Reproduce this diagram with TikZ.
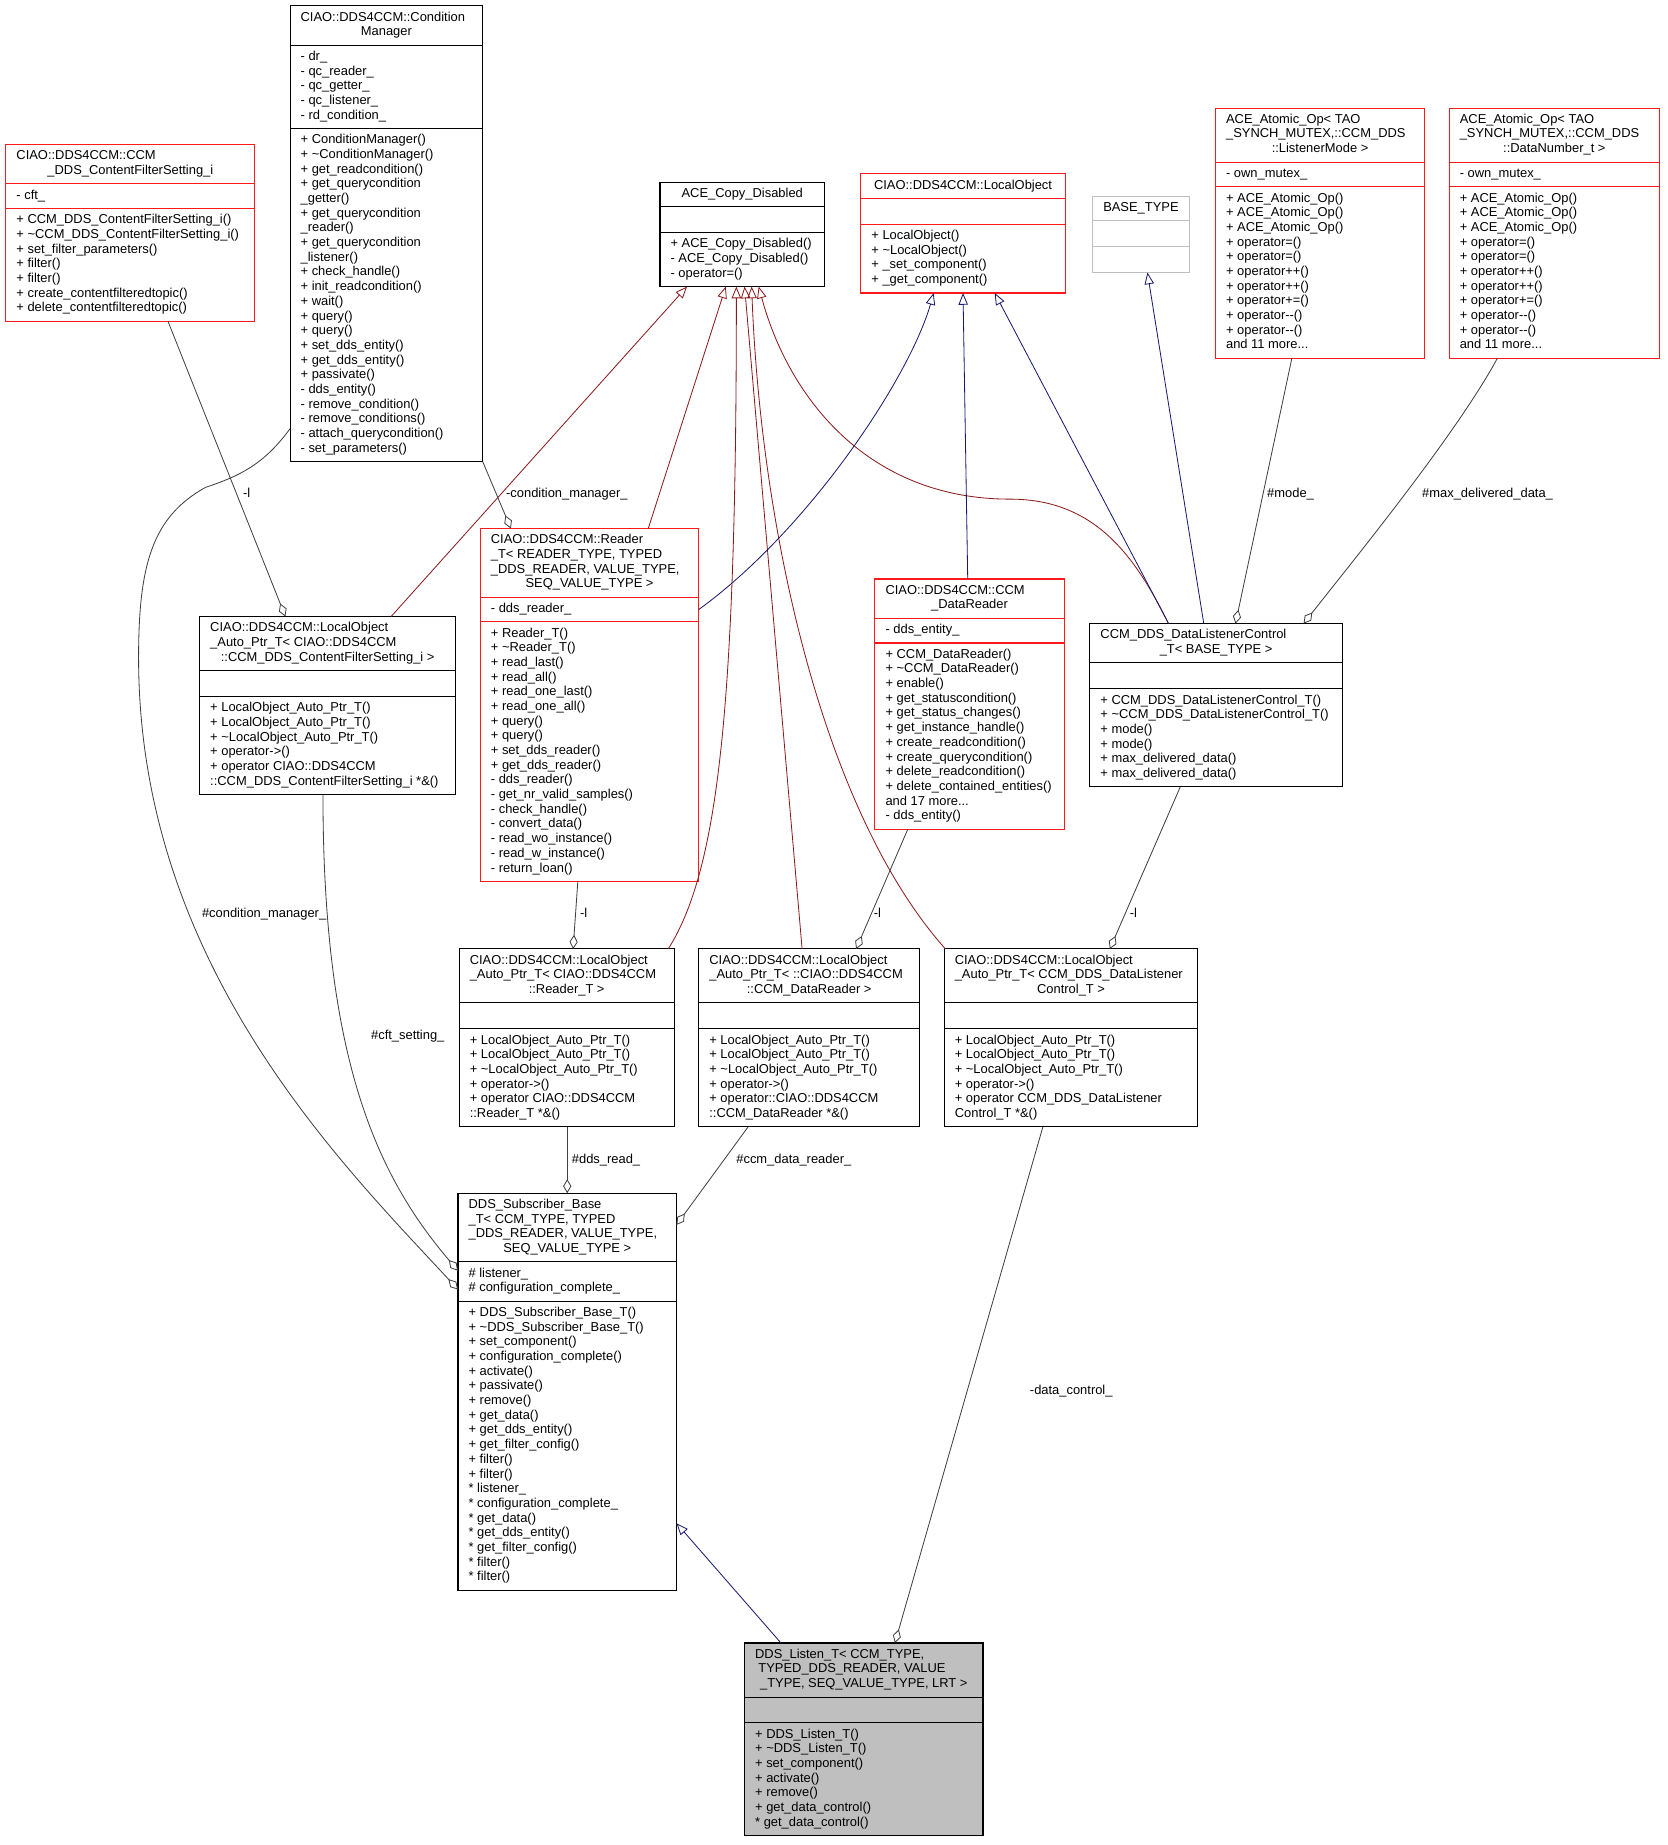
\documentclass[tikz,border=0pt]{standalone}
\usepackage{fontspec}
\setmainfont{Liberation Sans}
\usetikzlibrary{arrows.meta,calc}
\pgfdeclarelayer{background}
\pgfsetlayers{background,main}
\definecolor{inhblue}{HTML}{191970}
\definecolor{inhred}{HTML}{8B1A1A}
\definecolor{usegray}{HTML}{404040}
\definecolor{boxgray}{HTML}{BFBFBF}
\definecolor{boxred}{HTML}{FF1A1A}

\tikzset{
  txt/.style={inner sep=0pt, outer sep=0pt, font=\fontsize{11}{12.5}\selectfont},
  boxsep/.style={line width=0.9pt},
  inh/.style={line width=0.7pt, -{Triangle[open,length=10pt,width=8pt]}},
  agg/.style={line width=0.7pt, draw=usegray, {Diamond[open,length=12pt,width=7pt]}-},
  elabel/.style={txt, anchor=base west},
}

\newcommand\UStart[5]{\gdef\Uname{#1}\gdef\Ubx{#2}\gdef\Uby{#3}\gdef\Ubw{#4}\gdef\Ucol{#5}\gdef\Ucy{#3}}
\newcommand\UTitle[3]{%
  \pgfmathsetmacro\Utb{\Ucy+13}%
  \ifnum#2>0 \node[txt,anchor=base west] (\Uname-tl) at (\Ubx+9,\Utb) {\begin{tabular}[t]{@{}l@{}}#1\end{tabular}};\fi
  \pgfmathsetmacro\Utc{\Ucy+13+#2*12.5}%
  \pgfmathsetmacro\Uxc{\Ubx+\Ubw/2}%
  \node[txt,anchor=base] (\Uname-tc) at (\Uxc,\Utc) {#3};%
  \pgfmathsetmacro\Uny{\Ucy+8.5+(#2+1)*12.5}\global\let\Ucy\Uny}
\newcommand\UComp[3]{%
  \draw[boxsep,draw=\Ucol] (\Ubx,\Ucy) -- (\Ubx+\Ubw,\Ucy);
  \ifnum#3>0 \node[txt,anchor=base west] (\Uname-#1) at (\Ubx+9,\Ucy+13) {\begin{tabular}[t]{@{}l@{}}#2\end{tabular}};%
    \pgfmathsetmacro\Uny{\Ucy+8.5+#3*12.5}%
  \else \pgfmathsetmacro\Uny{\Ucy+22}\fi
  \global\let\Ucy\Uny}
\newcommand\UEnd[1]{%
  \pgfmathsetmacro\Ubh{\Ucy-\Uby}%
  \begin{pgfonlayer}{background}
  \node[draw=\Ucol, fill=#1, line width=0.9pt, inner sep=0pt, outer sep=0pt,
        minimum width=\Ubw pt, minimum height=\Ubh pt, anchor=north west] (\Uname) at (\Ubx,\Uby) {};
  \end{pgfonlayer}}

\begin{document}
\begin{tikzpicture}[x=1pt,y=-1pt]
\begin{pgfonlayer}{background}
\fill[white] (0,0) rectangle (1420,1571);
\end{pgfonlayer}
\useasboundingbox (0,0) rectangle (1420,1571);

% ---------- boxes ----------
\UStart{cfs}{5}{123}{212}{boxred}
\UTitle{CIAO::DDS4CCM::CCM}{1}{\_DDS\_ContentFilterSetting\_i}
\UComp{a}{- cft\_}{1}
\UComp{m}{+ CCM\_DDS\_ContentFilterSetting\_i()\\+ \textasciitilde CCM\_DDS\_ContentFilterSetting\_i()\\+ set\_filter\_parameters()\\+ filter()\\+ filter()\\+ create\_contentfilteredtopic()\\+ delete\_contentfilteredtopic()}{7}
\UEnd{white}

\UStart{cm}{247}{5}{164}{black}
\UTitle{CIAO::DDS4CCM::Condition}{1}{Manager}
\UComp{a}{- dr\_\\- qc\_reader\_\\- qc\_getter\_\\- qc\_listener\_\\- rd\_condition\_}{5}
\UComp{m}{+ ConditionManager()\\+ \textasciitilde ConditionManager()\\+ get\_readcondition()\\+ get\_querycondition\\\_getter()\\+ get\_querycondition\\\_reader()\\+ get\_querycondition\\\_listener()\\+ check\_handle()\\+ init\_readcondition()\\+ wait()\\+ query()\\+ query()\\+ set\_dds\_entity()\\+ get\_dds\_entity()\\+ passivate()\\- dds\_entity()\\- remove\_condition()\\- remove\_conditions()\\- attach\_querycondition()\\- set\_parameters()}{22}
\UEnd{white}

\UStart{ace}{562}{155}{140}{black}
\UTitle{}{0}{ACE\_Copy\_Disabled}
\UComp{a}{}{0}
\UComp{m}{+ ACE\_Copy\_Disabled()\\- ACE\_Copy\_Disabled()\\- operator=()}{3}
\UEnd{white}

\UStart{lo}{733}{148}{174}{boxred}
\UTitle{}{0}{CIAO::DDS4CCM::LocalObject}
\UComp{a}{}{0}
\UComp{m}{+ LocalObject()\\+ \textasciitilde LocalObject()\\+ \_set\_component()\\+ \_get\_component()}{4}
\UEnd{white}

\UStart{bt}{930}{167}{83}{boxgray}
\UTitle{}{0}{BASE\_TYPE}
\UComp{a}{}{0}
\UComp{m}{}{0}
\UEnd{white}

\UStart{aoa}{1035}{92}{178}{boxred}
\UTitle{ACE\_Atomic\_Op< TAO\\\_SYNCH\_MUTEX,::CCM\_DDS}{2}{::ListenerMode >}
\UComp{a}{- own\_mutex\_}{1}
\UComp{m}{+ ACE\_Atomic\_Op()\\+ ACE\_Atomic\_Op()\\+ ACE\_Atomic\_Op()\\+ operator=()\\+ operator=()\\+ operator++()\\+ operator++()\\+ operator+=()\\+ operator-\kern0pt-()\\+ operator-\kern0pt-()\\and 11 more...}{11}
\UEnd{white}

\UStart{aob}{1234}{92}{179}{boxred}
\UTitle{ACE\_Atomic\_Op< TAO\\\_SYNCH\_MUTEX,::CCM\_DDS}{2}{::DataNumber\_t >}
\UComp{a}{- own\_mutex\_}{1}
\UComp{m}{+ ACE\_Atomic\_Op()\\+ ACE\_Atomic\_Op()\\+ ACE\_Atomic\_Op()\\+ operator=()\\+ operator=()\\+ operator++()\\+ operator++()\\+ operator+=()\\+ operator-\kern0pt-()\\+ operator-\kern0pt-()\\and 11 more...}{11}
\UEnd{white}

\UStart{rd}{409}{450}{186}{boxred}
\UTitle{CIAO::DDS4CCM::Reader\\\_T< READER\_TYPE, TYPED\\\_DDS\_READER, VALUE\_TYPE,}{3}{SEQ\_VALUE\_TYPE >}
\UComp{a}{- dds\_reader\_}{1}
\UComp{m}{+ Reader\_T()\\+ \textasciitilde Reader\_T()\\+ read\_last()\\+ read\_all()\\+ read\_one\_last()\\+ read\_one\_all()\\+ query()\\+ query()\\+ set\_dds\_reader()\\+ get\_dds\_reader()\\- dds\_reader()\\- get\_nr\_valid\_samples()\\- check\_handle()\\- convert\_data()\\- read\_wo\_instance()\\- read\_w\_instance()\\- return\_loan()}{17}
\UEnd{white}

\UStart{lcfs}{170}{525}{218}{black}
\UTitle{CIAO::DDS4CCM::LocalObject\\\_Auto\_Ptr\_T< CIAO::DDS4CCM}{2}{::CCM\_DDS\_ContentFilterSetting\_i >}
\UComp{a}{}{0}
\UComp{m}{+ LocalObject\_Auto\_Ptr\_T()\\+ LocalObject\_Auto\_Ptr\_T()\\+ \textasciitilde LocalObject\_Auto\_Ptr\_T()\\+ operator->()\\+ operator CIAO::DDS4CCM\\::CCM\_DDS\_ContentFilterSetting\_i *\&()}{6}
\UEnd{white}

\UStart{cdr}{745}{493}{161}{boxred}
\UTitle{CIAO::DDS4CCM::CCM}{1}{\_DataReader}
\UComp{a}{- dds\_entity\_}{1}
\UComp{m}{+ CCM\_DataReader()\\+ \textasciitilde CCM\_DataReader()\\+ enable()\\+ get\_statuscondition()\\+ get\_status\_changes()\\+ get\_instance\_handle()\\+ create\_readcondition()\\+ create\_querycondition()\\+ delete\_readcondition()\\+ delete\_contained\_entities()\\and 17 more...\\- dds\_entity()}{12}
\UEnd{white}

\UStart{dlc}{928}{531}{215}{black}
\UTitle{CCM\_DDS\_DataListenerControl}{1}{\_T< BASE\_TYPE >}
\UComp{a}{}{0}
\UComp{m}{+ CCM\_DDS\_DataListenerControl\_T()\\+ \textasciitilde CCM\_DDS\_DataListenerControl\_T()\\+ mode()\\+ mode()\\+ max\_delivered\_data()\\+ max\_delivered\_data()}{6}
\UEnd{white}

\UStart{lrd}{391}{808}{183}{black}
\UTitle{CIAO::DDS4CCM::LocalObject\\\_Auto\_Ptr\_T< CIAO::DDS4CCM}{2}{::Reader\_T >}
\UComp{a}{}{0}
\UComp{m}{+ LocalObject\_Auto\_Ptr\_T()\\+ LocalObject\_Auto\_Ptr\_T()\\+ \textasciitilde LocalObject\_Auto\_Ptr\_T()\\+ operator->()\\+ operator CIAO::DDS4CCM\\::Reader\_T *\&()}{6}
\UEnd{white}

\UStart{ldr}{595}{808}{188}{black}
\UTitle{CIAO::DDS4CCM::LocalObject\\\_Auto\_Ptr\_T< ::CIAO::DDS4CCM}{2}{::CCM\_DataReader >}
\UComp{a}{}{0}
\UComp{m}{+ LocalObject\_Auto\_Ptr\_T()\\+ LocalObject\_Auto\_Ptr\_T()\\+ \textasciitilde LocalObject\_Auto\_Ptr\_T()\\+ operator->()\\+ operator::CIAO::DDS4CCM\\::CCM\_DataReader *\&()}{6}
\UEnd{white}

\UStart{ldlc}{804}{808}{216}{black}
\UTitle{CIAO::DDS4CCM::LocalObject\\\_Auto\_Ptr\_T< CCM\_DDS\_DataListener}{2}{Control\_T >}
\UComp{a}{}{0}
\UComp{m}{+ LocalObject\_Auto\_Ptr\_T()\\+ LocalObject\_Auto\_Ptr\_T()\\+ \textasciitilde LocalObject\_Auto\_Ptr\_T()\\+ operator->()\\+ operator CCM\_DDS\_DataListener\\Control\_T *\&()}{6}
\UEnd{white}

\UStart{sb}{390}{1016}{186}{black}
\UTitle{DDS\_Subscriber\_Base\\\_T< CCM\_TYPE, TYPED\\\_DDS\_READER, VALUE\_TYPE,}{3}{SEQ\_VALUE\_TYPE >}
\UComp{a}{\# listener\_\\\# configuration\_complete\_}{2}
\UComp{m}{+ DDS\_Subscriber\_Base\_T()\\+ \textasciitilde DDS\_Subscriber\_Base\_T()\\+ set\_component()\\+ configuration\_complete()\\+ activate()\\+ passivate()\\+ remove()\\+ get\_data()\\+ get\_dds\_entity()\\+ get\_filter\_config()\\+ filter()\\+ filter()\\{*} listener\_\\{*} configuration\_complete\_\\{*} get\_data()\\{*} get\_dds\_entity()\\{*} get\_filter\_config()\\{*} filter()\\{*} filter()}{19}
\UEnd{white}

\UStart{ls}{634}{1399}{203}{black}
\UTitle{DDS\_Listen\_T< CCM\_TYPE,\\\hspace*{2.8pt}TYPED\_DDS\_READER, VALUE}{2}{\_TYPE, SEQ\_VALUE\_TYPE, LRT >}
\UComp{a}{}{0}
\UComp{m}{+ DDS\_Listen\_T()\\+ \textasciitilde DDS\_Listen\_T()\\+ set\_component()\\+ activate()\\+ remove()\\+ get\_data\_control()\\{*} get\_data\_control()}{7}
\UEnd{boxgray}

% ---------- inheritance (private, firebrick) ----------
\draw[inh,draw=inhred] ([xshift=163pt]lcfs.north west) -- ([xshift=23pt]ace.south west);
\draw[inh,draw=inhred] ([xshift=143pt]rd.north west) -- ([xshift=56pt]ace.south west);
\draw[inh,draw=inhred] ([xshift=178pt]lrd.north west) .. controls (612,740) and (627,600) .. ([xshift=65pt]ace.south west);
\draw[inh,draw=inhred] ([xshift=88pt]ldr.north west) -- ([xshift=72pt]ace.south west);
\draw[inh,draw=inhred] ([xshift=1pt]ldlc.north west) .. controls (700,690) and (648,450) .. ([xshift=78pt]ace.south west);
\draw[inh,draw=inhred] ([xshift=67pt]dlc.north west) .. controls (965,470) and (930,425) .. (860,425) .. controls (740,425) and (672,340) .. ([xshift=84pt]ace.south west);

% ---------- inheritance (public, blue) ----------
\draw[inh,draw=inhblue] ([yshift=-69pt]rd.north east) .. controls (690,450) and (775,320) .. ([xshift=62pt]lo.south west);
\draw[inh,draw=inhblue] ([xshift=79pt]cdr.north west) -- ([xshift=87pt]lo.south west);
\draw[inh,draw=inhblue] ([xshift=67pt]dlc.north west) -- ([xshift=114pt]lo.south west);
\draw[inh,draw=inhblue] ([xshift=97pt]dlc.north west) -- ([xshift=47pt]bt.south west);
\draw[inh,draw=inhblue] ([xshift=31pt]ls.north west) -- ([yshift=-281pt]sb.north east);

% ---------- usage (aggregation) ----------
\draw[agg] ([xshift=73pt]lcfs.north west) -- ([xshift=138pt]cfs.south west);
\draw[agg] ([xshift=26pt]rd.north west) -- (cm.south east);
\draw[agg] ([yshift=-82pt]sb.north west) .. controls (290,990) and (118,820) .. (118,560) .. controls (118,480) and (130,440) .. (175,415) .. controls (205,405) and (225,395) .. ([yshift=-360pt]cm.north west);
\draw[agg] ([yshift=-66pt]sb.north west) .. controls (320,1000) and (275,900) .. ([xshift=105pt]lcfs.south west);
\draw[agg] ([xshift=97pt]lrd.north west) -- ([xshift=83pt]rd.south west);
\draw[agg] ([xshift=93pt]sb.north west) -- ([xshift=92pt]lrd.south west);
\draw[agg] ([yshift=-27pt]sb.north east) -- ([xshift=42pt]ldr.south west);
\draw[agg] ([xshift=134pt]ldr.north west) -- ([xshift=28pt]cdr.south west);
\draw[agg] ([xshift=141pt]ldlc.north west) -- ([xshift=77pt]dlc.south west);
\draw[agg] ([xshift=128pt]ls.north west) -- ([xshift=84pt]ldlc.south west);
\draw[agg] ([xshift=124pt]dlc.north west) -- ([xshift=65pt]aoa.south west);
\draw[agg] ([xshift=182pt]dlc.north west) .. controls (1150,480) and (1240,370) .. ([xshift=41pt]aob.south west);

% ---------- labels ----------
\node[elabel] (lb1) at (207,423.5) {-l};
\node[elabel] (lb2) at (431,423.5) {-condition\_manager\_};
\node[elabel] (lb3) at (172,781.5) {\#condition\_manager\_};
\node[elabel] (lb4) at (316,885.5) {\#cft\_setting\_};
\node[elabel] (lb5) at (494,781.5) {-l};
\node[elabel] (lb6) at (487,990.5) {\#dds\_read\_};
\node[elabel] (lb7) at (627,990.5) {\#ccm\_data\_reader\_};
\node[elabel] (lb8) at (744,781.5) {-l};
\node[elabel] (lb9) at (962,781.5) {-l};
\node[elabel] (lb10) at (877,1187.5) {-data\_control\_};
\node[elabel] (lb11) at (1079,423.5) {\#mode\_};
\node[elabel] (lb12) at (1211,423.5) {\#max\_delivered\_data\_};
\end{tikzpicture}
\end{document}
